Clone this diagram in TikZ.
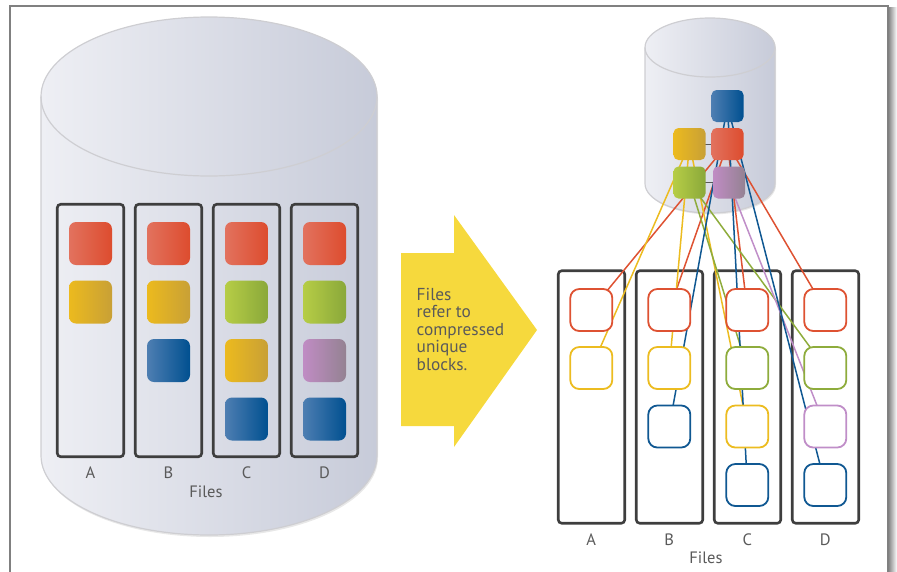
\documentclass[tikz,border=0pt]{standalone}
\usepackage{fontspec}
\setmainfont{PT Sans}
\pgfdeclarelayer{back}
\pgfdeclarelayer{wires}
\pgfsetlayers{back,wires,main}
\definecolor{redL}{RGB}{226,114,94}
\definecolor{redR}{RGB}{221,76,46}
\definecolor{yelL}{RGB}{236,186,30}
\definecolor{yelR}{RGB}{200,160,54}
\definecolor{grnL}{RGB}{182,205,70}
\definecolor{grnR}{RGB}{138,168,58}
\definecolor{purL}{RGB}{192,140,196}
\definecolor{purR}{RGB}{148,130,146}
\definecolor{bluL}{RGB}{78,126,178}
\definecolor{bluR}{RGB}{0,80,144}
\definecolor{lred}{RGB}{222,82,50}
\definecolor{lyel}{RGB}{236,188,32}
\definecolor{lgrn}{RGB}{142,172,60}
\definecolor{lpur}{RGB}{192,142,200}
\definecolor{lblu}{RGB}{16,88,146}
\definecolor{txt}{RGB}{90,90,90}
\definecolor{boxc}{RGB}{62,62,62}
\definecolor{cylL}{RGB}{238,239,244}
\definecolor{cylR}{RGB}{199,203,217}
\definecolor{cylO}{RGB}{206,206,210}
\definecolor{arrowc}{RGB}{246,217,61}
\definecolor{framec}{RGB}{128,128,128}
\tikzset{
  blk/.style={minimum size=43pt, inner sep=0pt, rounded corners=7pt},
  redblk/.style={blk, left color=redL, right color=redR},
  yelblk/.style={blk, left color=yelL, right color=yelR},
  grnblk/.style={blk, left color=grnL, right color=grnR},
  purblk/.style={blk, left color=purL, right color=purR},
  blublk/.style={blk, left color=bluL, right color=bluR},
  sblk/.style={minimum size=32pt, rounded corners=5pt},
  oblk/.style={draw, line width=1.8pt, fill=white, minimum size=42pt, inner sep=0pt, rounded corners=9pt},
  filebox/.style={draw=boxc, line width=2.6pt, rounded corners=3.5pt, minimum width=66.5pt, minimum height=252.5pt, inner sep=0pt},
  lbl/.style={text=txt, font=\fontsize{16.5}{18}\selectfont, inner sep=0pt},
  wire/.style={line width=1.5pt},
}
\begin{document}
\begin{tikzpicture}[x=1pt,y=-1pt]
\useasboundingbox (0,0) rectangle (897,571);
\begin{pgfonlayer}{back}
% frame
\shade[left color=black!45, right color=white] (889,7) rectangle (897,571);
\draw[framec, line width=2.4pt] (10,580) -- (10,6) -- (888,6) -- (888,580);
% big cylinder
\fill[black!30, opacity=0.3] (42,98.5) arc[start angle=180, end angle=360, x radius=168, y radius=79.5] -- (378,457.5) arc[start angle=0, end angle=180, x radius=168, y radius=79.5] -- cycle;
\shade[left color=cylL, right color=cylR, draw=cylO, line width=1.2pt] (41,96.5) arc[start angle=180, end angle=360, x radius=168, y radius=79.5] -- (377,455.5) arc[start angle=0, end angle=180, x radius=168, y radius=79.5] -- cycle;
\draw[cylO, line width=1.2pt] (41,96.5) arc[start angle=180, end angle=0, x radius=168, y radius=79.5];
% arrow
\fill[arrowc] (401,253) -- (454,253) -- (454,215) -- (537,330) -- (454,447) -- (454,426) -- (401,426) -- cycle;
% small cylinder
\fill[black!30, opacity=0.3] (646,49) arc[start angle=180, end angle=360, x radius=65, y radius=29.5] -- (776,185) arc[start angle=0, end angle=180, x radius=65, y radius=29.5] -- cycle;
\shade[left color=cylL, right color=cylR, draw=cylO, line width=1.2pt] (645,47.5) arc[start angle=180, end angle=360, x radius=65, y radius=29.5] -- (775,183.5) arc[start angle=0, end angle=180, x radius=65, y radius=29.5] -- cycle;
\draw[cylO, line width=1.2pt] (645,47.5) arc[start angle=180, end angle=0, x radius=65, y radius=29.5];
% right file boxes
\node[filebox] (FA) at (591.5,397) {};
\node[filebox] (FB) at (669.5,397) {};
\node[filebox] (FC) at (747.5,397) {};
\node[filebox] (FD) at (825.5,397) {};
\end{pgfonlayer}

% left file boxes
\node[filebox] (LA) at (90.5,330.5) {};
\node[filebox] (LB) at (168.5,330.5) {};
\node[filebox] (LC) at (246.5,330.5) {};
\node[filebox] (LD) at (324.5,330.5) {};
% left blocks
\node[redblk] (LA1) at (90.5,243.5) {};
\node[yelblk] (LA2) at (90.5,302) {};
\node[redblk] (LB1) at (168.5,243.5) {};
\node[yelblk] (LB2) at (168.5,302) {};
\node[blublk] (LB3) at (168.5,360.5) {};
\node[redblk] (LC1) at (246.5,243.5) {};
\node[grnblk] (LC2) at (246.5,302) {};
\node[yelblk] (LC3) at (246.5,360.5) {};
\node[blublk] (LC4) at (246.5,419) {};
\node[redblk] (LD1) at (324.5,243.5) {};
\node[grnblk] (LD2) at (324.5,302) {};
\node[purblk] (LD3) at (324.5,360.5) {};
\node[blublk] (LD4) at (324.5,419) {};
% left labels
\node[lbl] (tA) at (90.5,473) {A};
\node[lbl] (tB) at (168.5,473) {B};
\node[lbl] (tC) at (246.5,473) {C};
\node[lbl] (tD) at (324.5,473) {D};
\node[lbl] (tF) at (206,492) {Files};
% arrow text
\node[text=txt, anchor=north west, align=left, inner sep=0pt, font=\fontsize{17.3}{17.4}\selectfont] (note) at (416.5,288) {Files\\refer to\\compressed\\unique\\blocks.};

% unique blocks in small cylinder
\node[sblk, left color=bluL, right color=bluR] (cb) at (727.5,106) {};
\node[sblk, left color=redL, right color=redR] (cr) at (727.5,144) {};
\node[sblk, left color=yelL, right color=yelR] (cy) at (689.5,144) {};
\node[sblk, left color=grnL, right color=grnR] (cg) at (689.5,182.5) {};
\node[sblk, left color=purL, right color=purR] (cp) at (729,182.5) {};

% right blocks
\node[oblk, draw=lred] (RA1) at (591.3,310) {};
\node[oblk, draw=lyel] (RA2) at (591.3,368) {};
\node[oblk, draw=lred] (RB1) at (669.3,310) {};
\node[oblk, draw=lyel] (RB2) at (669.3,368) {};
\node[oblk, draw=lblu] (RB3) at (669.3,426.5) {};
\node[oblk, draw=lred] (RC1) at (747.3,310) {};
\node[oblk, draw=lgrn] (RC2) at (747.3,368) {};
\node[oblk, draw=lyel] (RC3) at (747.3,426.5) {};
\node[oblk, draw=lblu] (RC4) at (747.3,485) {};
\node[oblk, draw=lred] (RD1) at (825.3,310) {};
\node[oblk, draw=lgrn] (RD2) at (825.3,368) {};
\node[oblk, draw=lpur] (RD3) at (825.3,426.5) {};
\node[oblk, draw=lblu] (RD4) at (825.3,485) {};
% right labels
\node[lbl] (uA) at (591.3,540) {A};
\node[lbl] (uB) at (669.3,540) {B};
\node[lbl] (uC) at (747.3,540) {C};
\node[lbl] (uD) at (825.3,540) {D};
\node[lbl] (uF) at (706,558) {Files};

\begin{pgfonlayer}{wires}
\draw[black!65, line width=1pt] (cy.center) -- (cr.center);
\draw[black!65, line width=1pt] (cg.center) -- (cp.center);
\foreach \s/\t/\c in {cr/RA1/lred, cr/RB1/lred, cr/RC1/lred, cr/RD1/lred,
                      cy/RA2/lyel, cy/RB2/lyel, cy/RC3/lyel,
                      cg/RC2/lgrn, cg/RD2/lgrn,
                      cp/RD3/lpur,
                      cb/RB3/lblu, cb/RC4/lblu, cb/RD4/lblu}
  \draw[wire, \c] (\s.center) -- (\t.center);
\end{pgfonlayer}
\end{tikzpicture}
\end{document}
